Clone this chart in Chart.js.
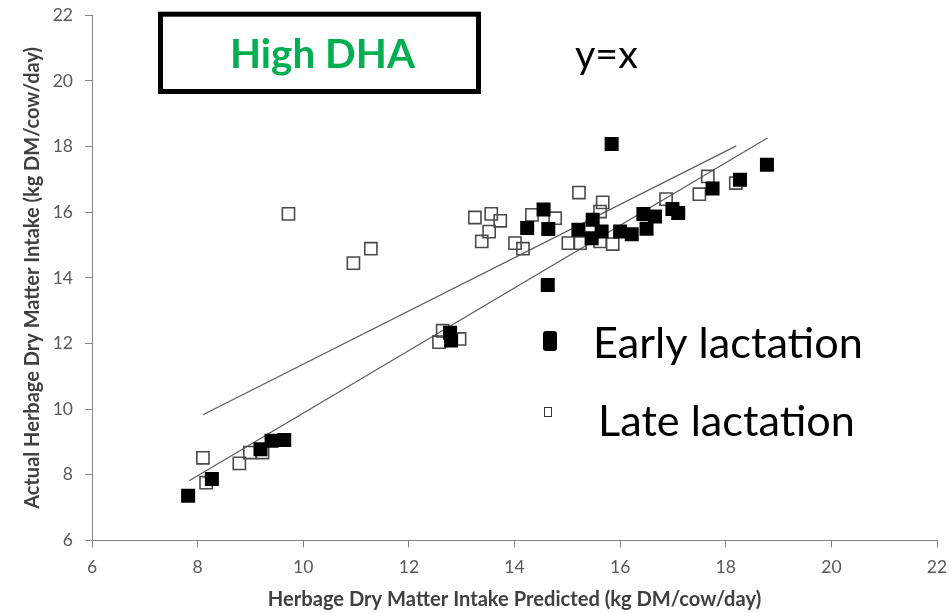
<!DOCTYPE html>
<html><head><meta charset="utf-8">
<script src="https://cdn.jsdelivr.net/npm/chart.js@4.4.1/dist/chart.umd.min.js"></script>
<style>html,body{margin:0;padding:0;background:#fff;}#wrap{width:951px;height:613px;position:relative;}</style>
</head><body><div id="wrap"><canvas id="c" width="951" height="613"></canvas></div>
<script>
// ---- data ----
const earlyX = [7.82, 8.27, 9.19, 9.40, 9.64, 12.78, 12.80, 14.24, 14.55, 14.64, 14.63, 15.21, 15.48, 15.46, 15.65, 15.84, 16.00, 16.22, 16.44, 16.50, 16.66, 16.99, 17.10, 17.75, 18.27, 18.78];
const earlyY = [7.36, 7.87, 8.78, 9.04, 9.06, 12.33, 12.09, 15.52, 16.08, 15.49, 13.78, 15.47, 15.77, 15.21, 15.41, 18.08, 15.41, 15.33, 15.95, 15.50, 15.87, 16.10, 15.98, 16.72, 16.99, 17.45];
const lateX = [8.10, 8.16, 8.79, 8.99, 9.23, 9.72, 10.95, 11.28, 12.57, 12.64, 12.96, 13.25, 13.38, 13.52, 13.56, 13.73, 14.01, 14.16, 14.33, 14.77, 15.02, 15.22, 15.24, 15.62, 15.62, 15.67, 15.86, 16.87, 17.50, 17.66, 18.19];
const lateY = [8.52, 7.76, 8.35, 8.68, 8.68, 15.95, 14.45, 14.89, 12.04, 12.39, 12.14, 15.84, 15.11, 15.41, 15.95, 15.74, 15.06, 14.89, 15.92, 15.82, 15.06, 16.60, 15.06, 16.02, 15.11, 16.30, 15.03, 16.40, 16.55, 17.09, 16.89];
const upperLineX = [8.10, 18.20];
const upperLineY = [9.83, 18.02];
const lowerLineX = [7.84, 18.79];
const lowerLineY = [7.82, 18.26];
const xTickValues = [6, 8, 10, 12, 14, 16, 18, 20, 22];
const yTickValues = [6, 8, 10, 12, 14, 16, 18, 20, 22];
const seriesLabels = ['Early lactation', 'Late lactation'];
const xTitle = 'Herbage Dry Matter Intake Predicted (kg DM/cow/day)';
const yTitle = 'Actual Herbage Dry Matter Intake (kg DM/cow/day)';
const boxLabel = 'High DHA';
const lineLabel = 'y=x';

// ---- helpers ----
const FAMILY = 'Lato, "Open Sans", sans-serif';
const mctx = document.createElement('canvas').getContext('2d');
function fitSize(text, weight, target) {
  mctx.font = weight + ' 40px ' + FAMILY;
  return 40 * target / mctx.measureText(text).width;
}
const pts = (xs, ys) => xs.map((x, i) => ({x: x, y: ys[i]}));

const xTitleSize = fitSize(xTitle, 'bold', 494);
const yTitleSize = fitSize(yTitle, 'bold', 462);

const annot = {
  id: 'annot',
  afterDraw(chart) {
    const ctx = chart.ctx;
    ctx.save();
    // framed label box
    ctx.lineWidth = 5;
    ctx.strokeStyle = '#000';
    ctx.strokeRect(160.5, 14.2, 318, 77.3);
    ctx.textBaseline = 'alphabetic';
    ctx.textAlign = 'left';
    let s = fitSize(boxLabel, 'bold', 185);
    ctx.font = 'bold ' + s + 'px ' + FAMILY;
    ctx.fillStyle = '#00B050';
    ctx.fillText(boxLabel, 230, 68);
    ctx.fillStyle = '#000';
    s = fitSize(lineLabel, 'normal', 63);
    ctx.font = 'normal ' + s + 'px ' + FAMILY;
    ctx.fillText(lineLabel, 575, 68);
    // legend
    s = fitSize(seriesLabels[0], 'normal', 270);
    ctx.font = 'normal ' + s + 'px ' + FAMILY;
    ctx.fillText(seriesLabels[0], 593, 358);
    s = fitSize(seriesLabels[1], 'normal', 257);
    ctx.font = 'normal ' + s + 'px ' + FAMILY;
    ctx.fillText(seriesLabels[1], 598, 436);
    ctx.beginPath();
    if (ctx.roundRect) ctx.roundRect(543, 331, 14, 20, 3); else ctx.rect(543, 331, 14, 20);
    ctx.fill();
    ctx.lineWidth = 1;
    ctx.strokeStyle = '#333';
    ctx.strokeRect(544.5, 407.5, 7, 9);
    ctx.restore();
  }
};

const tickFont = {family: FAMILY, size: 17.5};
new Chart(document.getElementById('c'), {
  type: 'scatter',
  data: {
    datasets: [
      {label: seriesLabels[0], data: pts(earlyX, earlyY), pointStyle: 'rect', pointRadius: 9.9,
       backgroundColor: '#000', borderColor: '#000', borderWidth: 0},
      {label: seriesLabels[1], data: pts(lateX, lateY), pointStyle: 'rect', pointRadius: 8.6,
       backgroundColor: 'rgba(0,0,0,0)', borderColor: '#4a4a4a', borderWidth: 1.6},
      {label: 'fit A', type: 'line', data: pts(upperLineX, upperLineY), showLine: true, pointRadius: 0,
       borderColor: '#5e5e5e', borderWidth: 1.3, fill: false},
      {label: 'fit B', type: 'line', data: pts(lowerLineX, lowerLineY), showLine: true, pointRadius: 0,
       borderColor: '#5e5e5e', borderWidth: 1.3, fill: false}
    ]
  },
  options: {
    responsive: false,
    animation: false,
    devicePixelRatio: 1,
    events: [],
    layout: {padding: {top: 15.3, right: 14, left: 0, bottom: 0}},
    plugins: {legend: {display: false}, tooltip: {enabled: false}},
    scales: {
      x: {
        type: 'linear', min: 6, max: 22,
        afterBuildTicks: sc => { sc.ticks = xTickValues.map(v => ({value: v})); },
        afterFit: sc => { sc.height = 72.5; sc.paddingLeft = 0; sc.paddingRight = 0; },
        ticks: {font: tickFont, color: '#595959', padding: 9, maxRotation: 0},
        grid: {drawOnChartArea: false, drawTicks: true, tickLength: 7, color: '#868686'},
        border: {display: true, color: '#868686', width: 1},
        title: {display: true, text: xTitle, color: '#404040', padding: {top: 0, bottom: 1},
                font: {family: FAMILY, size: xTitleSize, weight: 'bold'}}
      },
      y: {
        type: 'linear', min: 6, max: 22,
        afterBuildTicks: sc => { sc.ticks = yTickValues.map(v => ({value: v})); },
        afterFit: sc => { sc.width = 92; sc.paddingTop = 0; sc.paddingBottom = 0; },
        ticks: {font: tickFont, color: '#595959', padding: 12},
        grid: {drawOnChartArea: false, drawTicks: true, tickLength: 7, color: '#868686'},
        border: {display: true, color: '#868686', width: 1},
        title: {display: true, text: yTitle, color: '#404040', padding: {top: 21, bottom: 0},
                font: {family: FAMILY, size: yTitleSize, weight: 'bold'}}
      }
    }
  },
  plugins: [annot]
});
</script></body></html>
